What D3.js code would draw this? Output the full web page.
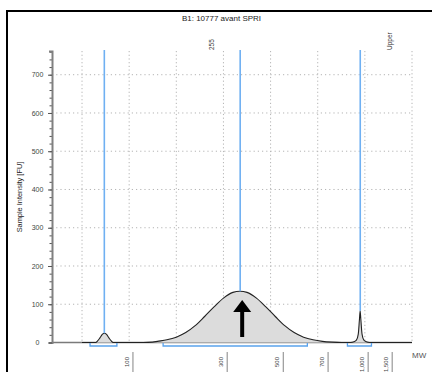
<!DOCTYPE html>
<html>
<head>
<meta charset="utf-8">
<script src="https://cdn.jsdelivr.net/npm/d3@7"></script>
<style>
  body { margin: 0; background: #fff; }
  text { font-family: "Liberation Sans", Arial, sans-serif; }
</style>
</head>
<body>
<div id="chart"></div>
<script>
// electropherogram, time in seconds on x, fluorescence units on y
var traceTime = [20, 22, 22.9, 23.3, 23.8, 24.3, 24.75, 25.2, 25.7, 26.2, 26.6, 27, 30, 33, 35, 36, 38, 40, 42, 44, 46, 48, 50, 52, 53.5, 55, 57, 59, 61, 63, 65, 67, 69, 71, 73, 75, 77, 77.7, 78.2, 78.6, 78.85, 79, 79.15, 79.4, 79.8, 80.3, 81, 84, 90];
var traceFU   = [0, 0, 0, 4, 12, 21, 24, 21, 12, 4, 0, 0, 0, 0, 1, 3, 7, 14, 26, 44, 68, 93, 116, 131, 134, 131, 116, 93, 68, 44, 26, 14, 7, 3, 1, 0, 0, 2, 6, 22, 60, 83, 60, 22, 6, 2, 0, 0, 0];

var yTicks = [0, 100, 200, 300, 400, 500, 600, 700];
var gridTimes = [20, 30, 40, 50, 60, 70, 80, 90];

var markerNames = ["", "255", "Upper"];
var markerTime = [24.73, 53.55, 79.02];
var markerFU = [24, 134, 83];

var mwLabels = ["100", "300", "500", "700", "1,000", "1,500"];
var mwTime = [30.8, 50.8, 62.7, 72.2, 80.7, 85.8];

var bracketStart = [21.7, 37.2, 76.3];
var bracketEnd = [27.4, 67.8, 81.4];

var W = 432, H = 372;
var svg = d3.select("#chart").append("svg")
    .attr("width", W)
    .attr("height", H);

// outer frame (runs past the bottom/right of the picture)
svg.append("rect")
    .attr("x", 7).attr("y", 11)
    .attr("width", 500).attr("height", 500)
    .attr("fill", "none")
    .attr("stroke", "#000")
    .attr("stroke-width", 2);

svg.append("text")
    .attr("x", 221.5).attr("y", 21)
    .attr("text-anchor", "middle")
    .style("font-size", "8px")
    .attr("fill", "#222")
    .text("B1: 10777 avant SPRI");

var x = d3.scaleLinear().domain([13.63, 90]).range([52, 412]);
var y = d3.scaleLinear().domain([0, 762]).range([342.5, 51]);

// grid
svg.append("g").selectAll("line")
    .data(yTicks.slice(1))
    .enter().append("line")
    .attr("x1", x.range()[0]).attr("x2", x(90))
    .attr("y1", function(d) { return y(d); })
    .attr("y2", function(d) { return y(d); })
    .attr("stroke", "#b4b4b4")
    .attr("stroke-dasharray", "1.2,3");

svg.append("g").selectAll("line")
    .data(gridTimes)
    .enter().append("line")
    .attr("x1", function(d) { return x(d); })
    .attr("x2", function(d) { return x(d); })
    .attr("y1", y(762)).attr("y2", y(0))
    .attr("stroke", "#b4b4b4")
    .attr("stroke-dasharray", "1.2,2.5");

// x baseline
svg.append("line")
    .attr("x1", x.range()[0]).attr("x2", x(90))
    .attr("y1", y(0)).attr("y2", y(0))
    .attr("stroke", "#7a7a7a")
    .attr("stroke-width", 1.5);

// y axis, minor then major
var minor = svg.append("g")
    .attr("transform", "translate(52,0)")
    .call(d3.axisLeft(y).tickValues(d3.range(0, 761, 20)).tickSize(2.5).tickFormat(""));
minor.select(".domain").remove();
minor.selectAll("line").attr("stroke", "#555");

var yAxis = svg.append("g")
    .attr("transform", "translate(52,0)")
    .call(d3.axisLeft(y).tickValues(yTicks).tickSizeInner(4).tickSizeOuter(3));
yAxis.select(".domain").attr("stroke", "#808080").attr("stroke-width", 2);
yAxis.selectAll(".tick line").attr("stroke", "#555");
yAxis.selectAll(".tick text")
    .attr("x", -14.5)
    .attr("text-anchor", "middle")
    .attr("fill", "#444")
    .style("font-size", "7px")
    .style("font-family", "Liberation Sans, Arial, sans-serif");

svg.append("text")
    .attr("transform", "translate(22,197) rotate(-90)")
    .attr("text-anchor", "middle")
    .style("font-size", "7.4px")
    .attr("fill", "#222")
    .text("Sample Intensity [FU]");

// trace
var pts = traceTime.map(function(t, i) { return [t, traceFU[i]]; });
var area = d3.area()
    .x(function(d) { return x(d[0]); })
    .y0(y(0))
    .y1(function(d) { return y(d[1]); })
    .curve(d3.curveMonotoneX);
var line = d3.line()
    .x(function(d) { return x(d[0]); })
    .y(function(d) { return y(d[1]); })
    .curve(d3.curveMonotoneX);

svg.append("path").datum(pts)
    .attr("d", area)
    .attr("fill", "#dcdcdc");
svg.append("path").datum(pts)
    .attr("d", line)
    .attr("fill", "none")
    .attr("stroke", "#222")
    .attr("stroke-width", 1.1);

// marker lines
svg.append("g").selectAll("line")
    .data(markerTime)
    .enter().append("line")
    .attr("x1", function(d) { return x(d); })
    .attr("x2", function(d) { return x(d); })
    .attr("y1", 50)
    .attr("y2", function(d, i) { return y(markerFU[i]); })
    .attr("stroke", "#6fb0f2")
    .attr("stroke-width", 1.6);

var labelDx = [0, -28, 30];
svg.append("g").selectAll("text")
    .data(markerNames)
    .enter().append("text")
    .attr("transform", function(d, i) {
        return "translate(" + (x(markerTime[i]) + labelDx[i] + 2) + ",50) rotate(-90)";
    })
    .style("font-size", "6.5px")
    .attr("fill", "#333")
    .text(function(d) { return d; });

// peak brackets
var brackets = svg.append("g")
    .attr("fill", "none")
    .attr("stroke", "#5aa2ec")
    .attr("stroke-width", 1.3);
brackets.selectAll("path")
    .data(bracketStart)
    .enter().append("path")
    .attr("d", function(d, i) {
        var a = x(d), b = x(bracketEnd[i]);
        return "M" + a + "," + (y(0) + 0.5) + "V346H" + b + "V" + (y(0) + 0.5);
    });

// arrow on main peak
var ax = x(markerTime[1]) + 2;
svg.append("line")
    .attr("x1", ax).attr("x2", ax)
    .attr("y1", 337).attr("y2", 309)
    .attr("stroke", "#000")
    .attr("stroke-width", 4);
svg.append("path")
    .attr("d", "M" + (ax - 9) + ",312L" + ax + ",300L" + (ax + 9) + ",312Z")
    .attr("fill", "#000");

// MW ladder labels
var mw = svg.append("g").selectAll("g")
    .data(mwTime)
    .enter().append("g");
mw.append("line")
    .attr("x1", function(d) { return x(d); })
    .attr("x2", function(d) { return x(d); })
    .attr("y1", 352).attr("y2", H)
    .attr("stroke", "#999")
    .attr("stroke-width", 1.2);
mw.append("text")
    .attr("transform", function(d) { return "translate(" + (x(d) - 4) + ",357) rotate(-90)"; })
    .attr("text-anchor", "end")
    .style("font-size", "6px")
    .attr("fill", "#444")
    .text(function(d, i) { return mwLabels[i]; });

svg.append("text")
    .attr("x", 412).attr("y", 358)
    .style("font-size", "8px")
    .attr("fill", "#555")
    .text("MW");
</script>
</body>
</html>
